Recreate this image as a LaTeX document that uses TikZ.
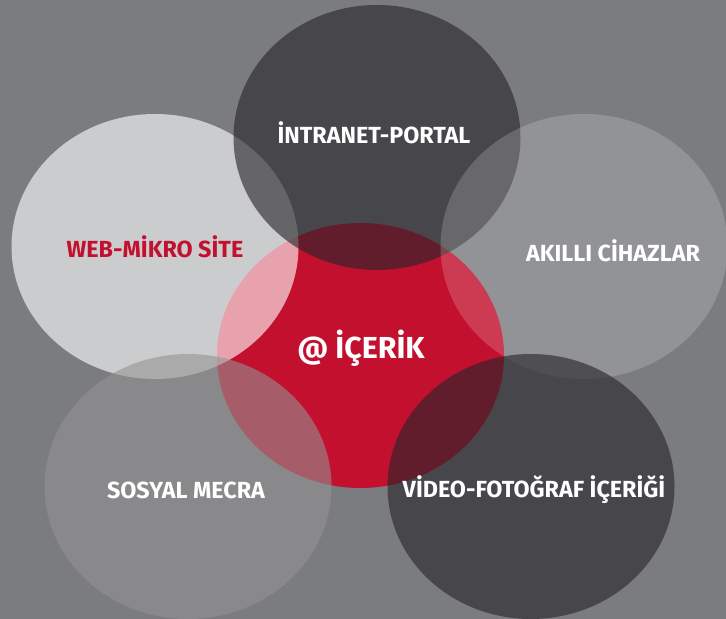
\documentclass[tikz,border=0pt]{standalone}
\usepackage{fontspec}
\setmainfont{Fira Sans}
\usetikzlibrary{shapes.geometric}
\definecolor{bggray}{RGB}{123,124,128}
\definecolor{icred}{RGB}{194,16,46}
\definecolor{darkblob}{RGB}{40,38,42}
\definecolor{midblob}{RGB}{147,147,147}
\begin{document}
\begin{tikzpicture}[
        x=1bp, y=1bp,
        blob/.style={ellipse, minimum width=287bp, minimum height=265bp, inner sep=0pt},
        tag/.style={text=white, font=\bfseries\fontsize{23.4}{26}\selectfont}
    ]
        \useasboundingbox (0,0) rectangle (726,619);
        \fill[bggray] (0,0) rectangle (726,619);

        % circles, back to front
        \node[blob, fill=icred] (icerik) at (360.5,263.5) {};
        \node[blob, fill=white, fill opacity=0.61] (web) at (155,372.5) {};
        \node[blob, fill=darkblob, fill opacity=0.625] (intranet) at (377,481.5) {};
        \node[blob, fill=white, fill opacity=0.18] (akilli) at (584,372.5) {};
        \node[blob, fill=midblob, fill opacity=0.59] (sosyal) at (188,132.5) {};
        \node[blob, fill=darkblob, fill opacity=0.625] (video) at (531,132.5) {};

        % labels
        \node[tag] (intranet-t) at (374,486) {İNTRANET-PORTAL};
        \node[tag, text=icred] (web-t) at (155,372) {WEB-MİKRO SİTE};
        \node[tag] (akilli-t) at (613,368) {AKILLI CİHAZLAR};
        \node[tag, font=\bfseries\fontsize{30.5}{34}\selectfont] (icerik-t) at (361,271) {@ İÇERİK};
        \node[tag] (sosyal-t) at (186,129) {SOSYAL MECRA};
        \node[tag] (video-t) at (534,129) {VİDEO-FOTOĞRAF İÇERİĞİ};
    \end{tikzpicture}
\end{document}
